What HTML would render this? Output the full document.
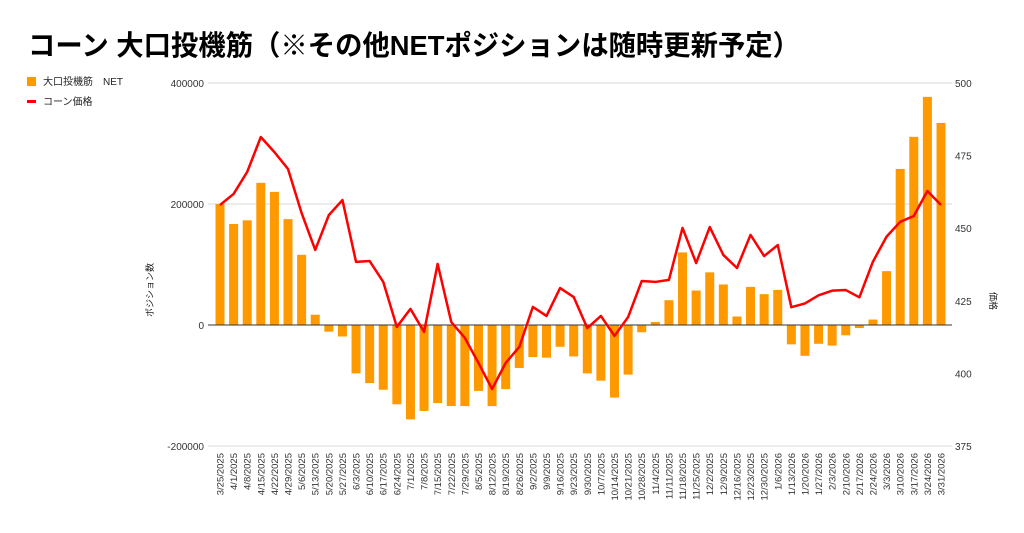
<!DOCTYPE html>
<html><head><meta charset="utf-8">
<style>
body{margin:0;background:#fff;width:1024px;height:528px;overflow:hidden;font-family:"Liberation Sans","Noto Sans CJK JP",sans-serif;}
svg text{font-family:"Liberation Sans","Noto Sans CJK JP",sans-serif;}
</style></head>
<body>
<svg id="chart" width="1024" height="528" xmlns="http://www.w3.org/2000/svg">
<text x="28" y="55" font-size="28" font-weight="bold" fill="#000" textLength="772" lengthAdjust="spacingAndGlyphs">コーン 大口投機筋（※その他NETポジションは随時更新予定）</text>
<g>
<rect x="27" y="77" width="9" height="9" fill="#ff9900"/>
<text x="43" y="85" font-size="10" fill="#222">大口投機筋　NET</text>
<rect x="27" y="100" width="9" height="3" fill="#ff0000"/>
<text x="43" y="105" font-size="10" fill="#222">コーン価格</text>
</g>
<text transform="translate(153,290) rotate(-90)" text-anchor="middle" font-size="9" fill="#222">ポジション数</text>
<text transform="translate(990,301) rotate(90)" text-anchor="middle" font-size="9" fill="#222">価格</text>
<g id="grid"></g><g id="bars"></g><g id="zero"></g><g id="line"></g><g id="xlabels"></g>
</svg>
<script>
const dates=["3/25/2025","4/1/2025","4/8/2025","4/15/2025","4/22/2025","4/29/2025","5/6/2025","5/13/2025","5/20/2025","5/27/2025","6/3/2025","6/10/2025","6/17/2025","6/24/2025","7/1/2025","7/8/2025","7/15/2025","7/22/2025","7/29/2025","8/5/2025","8/12/2025","8/19/2025","8/26/2025","9/2/2025","9/9/2025","9/16/2025","9/23/2025","9/30/2025","10/7/2025","10/14/2025","10/21/2025","10/28/2025","11/4/2025","11/11/2025","11/18/2025","11/25/2025","12/2/2025","12/9/2025","12/16/2025","12/23/2025","12/30/2025","1/6/2026","1/13/2026","1/20/2026","1/27/2026","2/3/2026","2/10/2026","2/17/2026","2/24/2026","3/3/2026","3/10/2026","3/17/2026","3/24/2026","3/31/2026"];
const netPositions=[200000,167000,173000,235000,220000,175000,116000,17000,-11000,-19000,-80000,-96000,-107000,-131000,-156000,-142000,-129000,-134000,-134000,-109000,-134000,-106000,-71000,-53000,-54000,-36000,-52000,-80000,-92000,-120000,-82000,-12000,5000,41000,120000,57000,87000,67000,14000,63000,51000,58000,-32000,-51000,-31000,-34000,-17000,-5000,9000,89000,258000,311000,377000,334000];
const prices=[458,461.8,469.4,481.4,476.2,470.4,455.2,442.5,454.5,459.7,438.4,438.7,431.5,416,422.2,414.3,437.7,417.7,412.2,403.6,394.6,403.6,409.1,422.9,419.8,429.4,426.3,415.6,419.8,412.9,419.4,431.8,431.5,432.2,450.1,438,450.4,440.8,436.3,447.7,440.4,444.2,422.8,424.1,426.9,428.5,428.7,426.2,438.5,447.1,452.2,454.2,462.8,458];
const leftTicks=[400000,200000,0,-200000];
const rightTicks=[500,475,450,425,400,375];
const NS="http://www.w3.org/2000/svg";
function mk(tag,attrs,parent){const e=document.createElementNS(NS,tag);for(const k in attrs)e.setAttribute(k,attrs[k]);parent.appendChild(e);return e;}
const yL=v=>325-v*(242/400000);
const yR=v=>83+(500-v)*(363/125);
const xC=i=>220+i*(721/53);
const grid=document.getElementById('grid');
leftTicks.forEach(t=>{
 if(t!==0){const l=mk('line',{x1:208,x2:952,y1:yL(t),y2:yL(t),stroke:'#d9d9d9','stroke-width':1},grid);
 
 }
 const tx=mk('text',{x:204,y:yL(t)+4,'text-anchor':'end','font-size':10,fill:'#333'},grid);tx.textContent=t;
 
 
});
rightTicks.forEach(t=>{
 const tx=mk('text',{x:955,y:yR(t)+4,'font-size':10,fill:'#333'},grid);tx.textContent=t;
 
 
});
const bars=document.getElementById('bars');
netPositions.forEach((v,i)=>{
 const y0=yL(0),y1=yL(v);
 const r=mk('rect',{x:xC(i)-4.5,y:Math.min(y0,y1),width:9,height:Math.abs(y1-y0),fill:'#ff9900'},bars);
 
 
});
const z=mk('line',{x1:208,x2:952,y1:yL(0),y2:yL(0),stroke:'#333','stroke-width':1},document.getElementById('zero'));


const pl=mk('polyline',{points:prices.map((p,i)=>xC(i)+','+yR(p)).join(' '),fill:'none',stroke:'#ff0000','stroke-width':2.5,'stroke-linejoin':'round'},document.getElementById('line'));


const xl=document.getElementById('xlabels');
dates.forEach((d,i)=>{
 const t=mk('text',{transform:'translate('+(xC(i)+3.5)+',453) rotate(-90)','text-anchor':'end','font-size':9.5,fill:'#333'},xl);
 t.textContent=d;
 
 
});
</script>
</body></html>
